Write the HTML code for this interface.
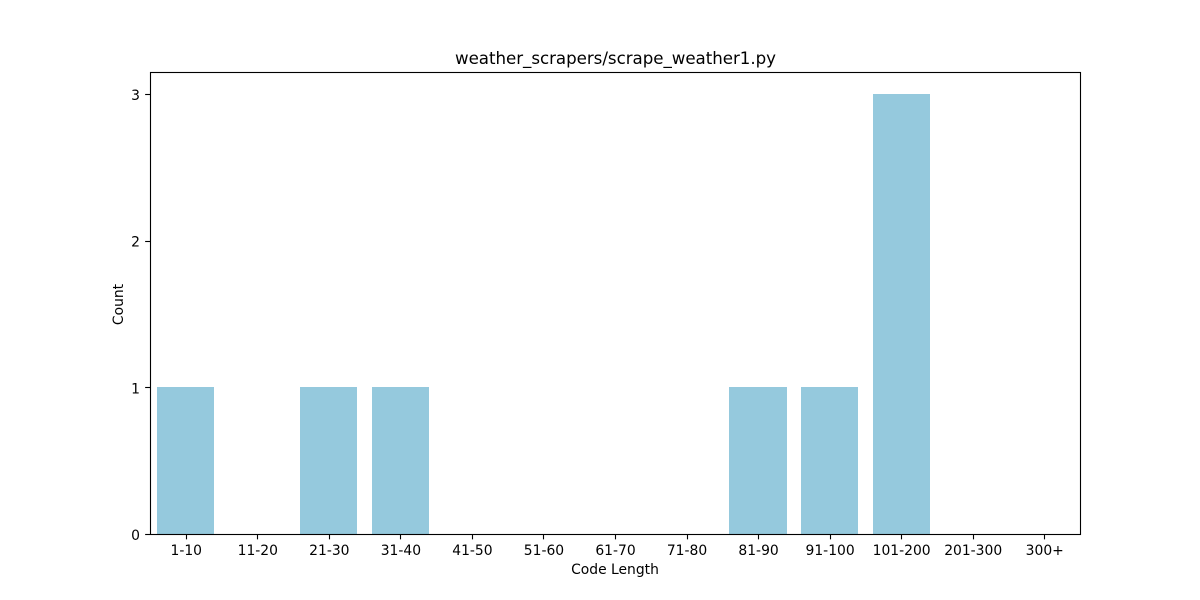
<!DOCTYPE html>
<html lang="en">
<head>
<meta charset="utf-8">
<title>weather_scrapers/scrape_weather1.py</title>
<style>
  html, body { margin: 0; padding: 0; background: #fff; }
  svg { display: block; }
  text { font-family: "DejaVu Sans", "Liberation Sans", sans-serif; fill: #000; }
</style>
</head>
<body>
<svg id="chart" xmlns="http://www.w3.org/2000/svg" width="1200" height="600" viewBox="0 0 1200 600">
  <rect x="0" y="0" width="1200" height="600" fill="#ffffff"></rect>
  <g id="bars" shape-rendering="crispEdges"></g>
  <g id="x-axis"></g>
  <g id="y-axis"></g>
  <rect x="150.5" y="72.5" width="930" height="462" fill="none" stroke="#000" stroke-width="1.11"></rect>
  <text x="455" y="64" font-size="16.67" textLength="321" lengthAdjust="spacing">weather_scrapers/scrape_weather1.py</text>
  <text x="615" y="574" font-size="13.89" text-anchor="middle">Code Length</text>
  <text transform="translate(123 304.5) rotate(-90)" font-size="13.89" text-anchor="middle">Count</text>
</svg>
<script>
const categories = ["1-10", "11-20", "21-30", "31-40", "41-50", "51-60", "61-70", "71-80", "81-90", "91-100", "101-200", "201-300", "300+"];
const counts = [1, 0, 1, 1, 0, 0, 0, 0, 1, 1, 3, 0, 0];
const yTicks = [0, 1, 2, 3];

const SVG_NS = "http://www.w3.org/2000/svg";
const plot = { left: 150, right: 1080, top: 72, bottom: 534 };
const yMax = Math.max(...counts) * 1.05;
const barFraction = 0.8;
const tickLength = 4.86;

function xScale(index) {
  return plot.left + (index + 0.5) * (plot.right - plot.left) / categories.length;
}
function yScale(value) {
  return plot.bottom - value / yMax * (plot.bottom - plot.top);
}
function make(tag, attrs, parent) {
  const el = document.createElementNS(SVG_NS, tag);
  for (const key in attrs) el.setAttribute(key, attrs[key]);
  parent.appendChild(el);
  return el;
}

const barsGroup = document.getElementById("bars");
const xGroup = document.getElementById("x-axis");
const yGroup = document.getElementById("y-axis");
const barWidth = barFraction * (plot.right - plot.left) / categories.length;

counts.forEach(function (value, i) {
  const left = Math.round(xScale(i) - barWidth / 2);
  const right = Math.round(xScale(i) + barWidth / 2);
  const top = Math.round(yScale(value));
  const bar = make("rect", {
    x: left,
    y: top,
    width: right - left,
    height: plot.bottom - top,
    fill: "#95c9dd"
  }, barsGroup);
  
  
});

categories.forEach(function (label, i) {
  const x = Math.round(xScale(i)) + 0.5;
  const tick = make("line", {
    x1: x, x2: x,
    y1: plot.bottom, y2: plot.bottom + tickLength + 0.5,
    stroke: "#000", "stroke-width": 1.11
  }, xGroup);
  
  
  const text = make("text", {
    x: xScale(i) + 0.5, y: 555, "font-size": 13.89, "text-anchor": "middle"
  }, xGroup);
  text.textContent = label;
  
  
});

yTicks.forEach(function (value) {
  const y = Math.round(yScale(value)) + 0.5;
  const tick = make("line", {
    x1: plot.left - tickLength, x2: plot.left,
    y1: y, y2: y,
    stroke: "#000", "stroke-width": 1.11
  }, yGroup);
  
  
  const text = make("text", {
    x: plot.left - 10, y: yScale(value) + 6, "font-size": 13.89, "text-anchor": "end"
  }, yGroup);
  text.textContent = value;
  
  
});
</script>
</body>
</html>
